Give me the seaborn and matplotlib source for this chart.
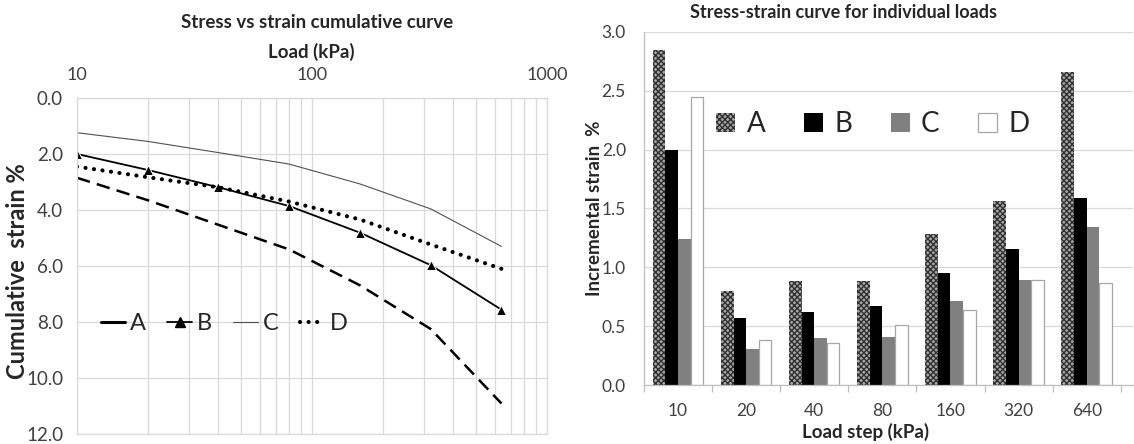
import numpy as np
import pandas as pd
import matplotlib
matplotlib.use("Agg")
import matplotlib.pyplot as plt
import seaborn as sns
from matplotlib.lines import Line2D
from matplotlib.ticker import FixedLocator, NullFormatter, FixedFormatter

# ---------------- data ----------------
loads = [10, 20, 40, 80, 160, 320, 640]
load_labels = ["10", "20", "40", "80", "160", "320", "640"]
samples = ["A", "B", "C", "D"]

# cumulative strain (%) - left chart
cum_A = [2.85, 3.65, 4.53, 5.41, 6.69, 8.25, 10.91]
cum_B = [2.00, 2.57, 3.19, 3.86, 4.81, 5.97, 7.56]
cum_C = [1.24, 1.55, 1.95, 2.36, 3.07, 3.96, 5.30]
cum_D = [2.45, 2.83, 3.19, 3.70, 4.34, 5.23, 6.10]

# incremental strain (%) - right chart
inc_A = [2.85, 0.80, 0.88, 0.88, 1.28, 1.56, 2.66]
inc_B = [2.00, 0.57, 0.62, 0.67, 0.95, 1.16, 1.59]
inc_C = [1.24, 0.31, 0.40, 0.41, 0.71, 0.89, 1.34]
inc_D = [2.45, 0.38, 0.36, 0.51, 0.64, 0.89, 0.87]

x_ticks_left = [10, 100, 1000]
x_ticklabels_left = ["10", "100", "1000"]
y_ticks_left = [0, 2, 4, 6, 8, 10, 12]
y_ticks_right = [0, 0.5, 1.0, 1.5, 2.0, 2.5, 3.0]

# ---------------- style ----------------
sns.set_theme(style="white")
plt.rcParams["font.family"] = ["Lato", "DejaVu Sans"]
plt.rcParams["hatch.linewidth"] = 1.0

W, H = 1134, 444
fig = plt.figure(figsize=(W / 100, H / 100), dpi=100)
grid_c = "#d9d9d9"
tick_c = "#404040"
text_c = "#262626"

# ---------------- left chart ----------------
ax1 = fig.add_axes([77 / W, 1 - 434 / H, 470 / W, 336 / H])
ax1.set_xscale("log")

styles = {
    "A": dict(color="black", lw=1.8, dashes=(5.4, 2.9)),
    "B": dict(color="black", lw=1.3, marker="^", markersize=7.5),
    "C": dict(color="#505050", lw=0.8),
    "D": dict(color="black", lw=3.0, linestyle=(0, (0.01, 2.05)), dash_capstyle="round"),
}
cums = {"A": cum_A, "B": cum_B, "C": cum_C, "D": cum_D}
for s in samples:
    sns.lineplot(x=loads, y=cums[s], ax=ax1, **styles[s])

ax1.set_xlim(10, 1000)
ax1.set_ylim(12, 0)
ax1.xaxis.tick_top()
ax1.xaxis.set_major_locator(FixedLocator(x_ticks_left))
ax1.xaxis.set_major_formatter(FixedFormatter(x_ticklabels_left))
minor = [m * d for d in (10, 100) for m in range(2, 10)]
ax1.xaxis.set_minor_locator(FixedLocator(minor))
ax1.xaxis.set_minor_formatter(NullFormatter())
ax1.set_yticks(y_ticks_left)
ax1.set_yticklabels([f"{v:.1f}" for v in y_ticks_left])
ax1.grid(True, which="both", axis="x", color=grid_c, lw=0.9)
ax1.grid(True, which="major", axis="y", color=grid_c, lw=0.9)
ax1.set_axisbelow(True)
for sp in ax1.spines.values():
    sp.set_color(grid_c)
    sp.set_linewidth(0.9)
ax1.tick_params(axis="x", which="both", length=0, pad=11, labelsize=13, colors=tick_c)
ax1.tick_params(axis="y", length=0, pad=10, labelsize=13.5, colors=tick_c)
ax1.set_xlabel("")
ax1.set_ylabel("")

leg_handles1 = [
    Line2D([], [], color="black", lw=2.2),
    Line2D([], [], color="black", lw=1.3, marker="^", markersize=7),
    Line2D([], [], color="#505050", lw=0.8),
    Line2D([], [], color="black", lw=3.0, linestyle=(0, (0.01, 2.05)), dash_capstyle="round"),
]
ax1.legend(handles=leg_handles1, labels=samples, ncol=4, frameon=False,
           loc="center", bbox_to_anchor=(224 / W, 1 - 324 / H),
           bbox_transform=fig.transFigure, fontsize=17, handlelength=1.05,
           handletextpad=0.2, columnspacing=0.9, borderpad=0)

fig.text(317 / W, 1 - 22 / H, "Stress vs strain cumulative curve", ha="center", va="center",
         fontsize=13.5, fontweight="bold", color=text_c)
fig.text(311 / W, 1 - 52 / H, "Load (kPa)", ha="center", va="center",
         fontsize=13.5, fontweight="bold", color=text_c)
fig.text(18 / W, 1 - 271 / H, "Cumulative  strain %", ha="center", va="center", rotation=90,
         fontsize=17, fontweight="bold", color=text_c)

# ---------------- right chart ----------------
ax2 = fig.add_axes([644 / W, 1 - 385 / H, 489 / W, 353 / H])
incs = {"A": inc_A, "B": inc_B, "C": inc_C, "D": inc_D}
rows = []
for s in samples:
    for lab, v in zip(load_labels, incs[s]):
        rows.append({"load": lab, "sample": s, "value": v})
df = pd.DataFrame(rows)

palette = {"A": "#a8a8a8", "B": "black", "C": "#808080", "D": "white"}
sns.barplot(data=df, x="load", y="value", hue="sample", order=load_labels, hue_order=samples,
            palette=palette, width=0.74, gap=0, errorbar=None, saturation=1, ax=ax2,
            legend=False)

for s, cont in zip(samples, ax2.containers):
    for p in cont:
        if s == "A":
            p.set_hatch("xxxxxx")
            p.set_edgecolor("#303030")
            p.set_linewidth(0)
        elif s == "D":
            p.set_edgecolor("#a6a6a6")
            p.set_linewidth(0.9)
        else:
            p.set_linewidth(0)

ax2.set_xlim(-0.5, 6.68)
ax2.set_ylim(0, 3.0)
ax2.set_yticks(y_ticks_right)
ax2.set_yticklabels([f"{v:.1f}" for v in y_ticks_right])
ax2.grid(True, axis="y", color=grid_c, lw=0.9)
ax2.set_axisbelow(True)
for k, sp in ax2.spines.items():
    sp.set_visible(k in ("left", "bottom"))
    sp.set_color("#bfbfbf")
    sp.set_linewidth(0.9)
ax2.xaxis.set_minor_locator(FixedLocator(np.arange(-0.5, 7.0, 1.0)))
ax2.tick_params(axis="x", which="major", length=0, pad=13, labelsize=12.5, colors=tick_c)
ax2.tick_params(axis="x", which="minor", bottom=True, length=5, width=0.9, color="#bfbfbf",
                direction="out")
ax2.tick_params(axis="y", length=0, pad=13, labelsize=12.5, colors=tick_c)
ax2.set_xlabel("")
ax2.set_ylabel("")

handles2 = [cont[0] for cont in ax2.containers]
ax2.legend(handles=handles2, labels=samples, ncol=4, frameon=False, loc="center",
           bbox_to_anchor=(873 / W, 1 - 124 / H), bbox_transform=fig.transFigure,
           fontsize=20, handlelength=0.68, handleheight=0.68, handletextpad=0.4,
           columnspacing=1.4, borderpad=0)

fig.text(843 / W, 1 - 13 / H, "Stress-strain curve for individual loads", ha="center",
         va="center", fontsize=13, fontweight="bold", color=text_c)
fig.text(866 / W, 1 - 432 / H, "Load step (kPa)", ha="center", va="center",
         fontsize=13.5, fontweight="bold", color=text_c)
fig.text(595 / W, 1 - 208 / H, "Incremental strain  %", ha="center", va="center",
         rotation=90, fontsize=13.5, fontweight="bold", color=text_c)

fig.savefig("out.png", dpi=100)
